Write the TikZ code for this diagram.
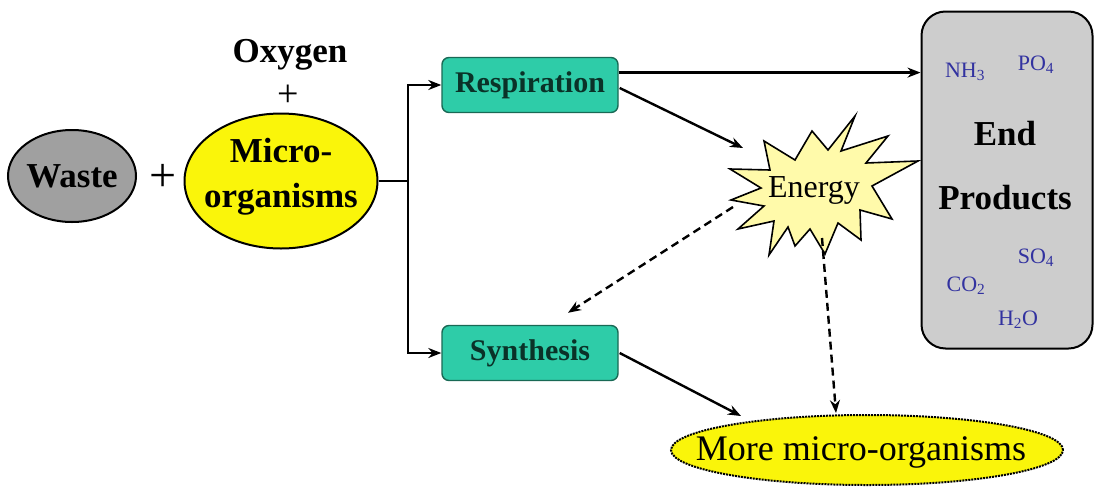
\documentclass[tikz,border=0pt]{standalone}
\usepackage{fontspec}
\setmainfont{Liberation Serif}
\usetikzlibrary{shapes.geometric,arrows.meta,calc}
\definecolor{tealfill}{RGB}{46,204,168}
\definecolor{tealdraw}{RGB}{25,105,85}
\definecolor{tealtext}{RGB}{10,50,40}
\definecolor{myyellow}{RGB}{250,245,10}
\definecolor{wastegray}{RGB}{160,160,160}
\definecolor{endgray}{RGB}{205,205,205}
\definecolor{energyfill}{RGB}{255,250,170}
\definecolor{chemblue}{RGB}{50,50,160}
\tikzset{
  conn/.style={line width=2.4pt, draw=black},
  arr/.style={conn, -{Stealth[length=13pt,width=10pt]}},
  darr/.style={arr, dash pattern=on 8pt off 5pt},
  procbox/.style={rectangle, rounded corners=7pt, draw=tealdraw, line width=1.4pt, fill=tealfill,
    minimum width=176pt, minimum height=55pt, text=tealtext, font=\fontsize{30}{32}\selectfont\bfseries},
  bigtext/.style={font=\fontsize{35}{45}\selectfont\bfseries},
  chem/.style={text=chemblue, font=\fontsize{22}{24}\selectfont},
  shapeonly/.style={ellipse, draw, line width=2pt, inner sep=0pt},
}
\begin{document}
\begin{tikzpicture}[x=1pt,y=-1pt]
\useasboundingbox (0,0) rectangle (1094,490);
% inputs
\node[shapeonly, fill=wastegray, minimum width=128pt, minimum height=92pt] (waste) at (72,176) {};
\node[bigtext] (wastetxt) at (waste.center) {Waste};
\node[font=\fontsize{48}{50}\selectfont, inner sep=0pt] (plus1) at (163,178) {+};
\node[shapeonly, fill=myyellow, minimum width=193pt, minimum height=135pt] (micro) at (281,181) {};
\node[bigtext, align=center] (microtxt) at (281,177) {Micro-\\organisms};
\node[bigtext, inner sep=0pt] (oxy) at (290,55) {Oxygen};
\node[font=\fontsize{38}{40}\selectfont, inner sep=0pt] (plus2) at (288,96) {+};
% processes
\node[procbox] (resp) at (530,85) {Respiration};
\node[procbox] (synth) at (530,353) {Synthesis};
% end products
\node[rectangle, rounded corners=24pt, draw, line width=2pt, fill=endgray, minimum width=171pt, minimum height=337pt] (endp) at (1007,180) {};
\node[align=center, font=\fontsize{35}{64}\selectfont\bfseries] (endtxt) at (1005,166) {End\\Products};
\node[chem] (nh3) at (965,72) {NH\textsubscript{3}};
\node[chem] (po4) at (1036,65) {PO\textsubscript{4}};
\node[chem] (so4) at (1036,258) {SO\textsubscript{4}};
\node[chem] (co2) at (966,286) {CO\textsubscript{2}};
\node[chem] (h2o) at (1018,320) {H\textsubscript{2}O};
% more micro-organisms
\node[shapeonly, densely dotted, line width=2pt, fill=myyellow, minimum width=392pt, minimum height=70pt] (more) at (867,450) {};
\node[font=\fontsize{36}{40}\selectfont] (moretxt) at (861,452) {More micro-organisms};
% energy starburst
\draw[line width=1.6pt, fill=energyfill, line join=miter]
  (855,116) -- (841,151) -- (888,136) -- (866,163) -- (918,161) -- (872,186) --
  (892,219) -- (860,210) -- (861,240) -- (838,223) -- (825,254) -- (810,229) --
  (795,246) -- (788,227) -- (769,255) -- (774,221) -- (738,229) -- (764,206) --
  (731,200) -- (761,188) -- (730,169) -- (770,170) -- (764,141) -- (795,160) --
  (812,131) -- (828,150) -- cycle;
\node[font=\fontsize{32}{34}\selectfont] (energy) at (814,190) {Energy};
\coordinate (eIn) at (743,148);
\coordinate (eOutL) at (733,207);
\coordinate (eOutB) at (822,238);
% connectors
\coordinate (split) at (408,181);
\draw[conn] (micro.east) -- (split);
\draw[arr] (split) |- (resp.west);
\draw[arr] (split) |- (synth.west);
\coordinate (rtop) at ($(resp.north east)!0.28!(resp.south east)$);
\draw[arr] (rtop) -- (rtop -| endp.west);
\draw[arr] ($(resp.east)+(1,3)$) -- (eIn);
\draw[darr] (eOutL) -- ($(synth.north)+(38,-12)$);
\draw[darr] (eOutB) -- ($(more.north)+(-31,-1)$);
\draw[arr] ($(synth.east)+(1,0)$) -- ($(more.center)+(-126,-34)$);
\end{tikzpicture}
\end{document}
